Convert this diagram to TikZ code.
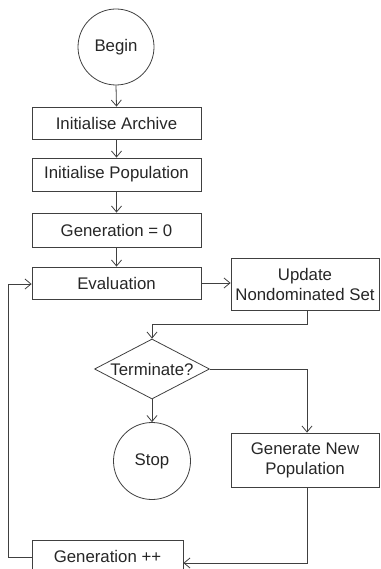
\documentclass[tikz,border=0pt]{standalone}
\usepackage{fontspec}
\setmainfont{Liberation Sans}
\usetikzlibrary{shapes.geometric,arrows.meta}
\begin{document}
\begin{tikzpicture}[x=1pt,y=-1pt,
  every node/.style={font=\fontsize{16.8}{20}\selectfont, text=black!85},
  box/.style={draw=black!75, line width=0.8pt, rectangle, inner sep=0pt, align=center},
  term/.style={draw=black!75, line width=0.8pt, circle, inner sep=0pt, minimum size=76pt},
  dec/.style={draw=black!75, line width=0.8pt, diamond, inner sep=0pt, minimum width=115pt, minimum height=60pt},
  link/.style={draw=black!75, line width=0.8pt, -{Straight Barb[length=6pt,width=10pt]}},
  plain/.style={draw=black!75, line width=0.8pt}]
\useasboundingbox (0,0) rectangle (380,569);
\node[term] (begin) at (116,47) {Begin};
\node[box, minimum width=169pt, minimum height=32pt] (arch) at (116.5,123) {Initialise Archive};
\node[box, minimum width=169pt, minimum height=33pt] (pop) at (116.5,174.5) {Initialise Population};
\node[box, minimum width=169pt, minimum height=34pt] (gen0) at (116.5,230) {Generation = 0};
\node[box, minimum width=169pt, minimum height=32pt] (eval) at (116.5,283) {Evaluation};
\node[box, minimum width=148pt, minimum height=52pt] (upd) at (305,284) {Update\\Nondominated Set};
\node[dec] (term) at (152,369) {};
\node (termtxt) at (152,369) {Terminate?};
\node[term, minimum size=77pt] (stop) at (152,461) {Stop};
\node[box, minimum width=148pt, minimum height=54pt] (gnew) at (305,460) {Generate New\\Population};
\node[box, minimum width=151pt, minimum height=32pt] (ginc) at (107.5,556) {Generation ++};
\coordinate (c1) at (307,324);
\coordinate (c2) at (152,324);
\coordinate (c3) at (307,369);
\coordinate (c4) at (307,563);
\coordinate (c5) at (8,557);
\coordinate (c6) at (8,284);
\path[link] (begin.south) -- (arch.north);
\path[link] (arch.south) -- (pop.north);
\path[link] (pop.south) -- (gen0.north);
\path[link] (gen0.south) -- (eval.north);
\path[link] (eval.east |- 0,283) -- (upd.west |- 0,283);
\path[link] (upd.south -| c1) -- (c1) -- (c2) -- (term.north);
\path[link] (term.east) -- (c3) -- (gnew.north -| c3);
\path[link] (term.south) -- (stop.north);
\path[link] (gnew.south -| c4) -- (c4) -- (ginc.east |- c4);
\path[link] (ginc.west |- c5) -- (c5) -- (c6) -- (eval.west |- c6);
\end{tikzpicture}
\end{document}
